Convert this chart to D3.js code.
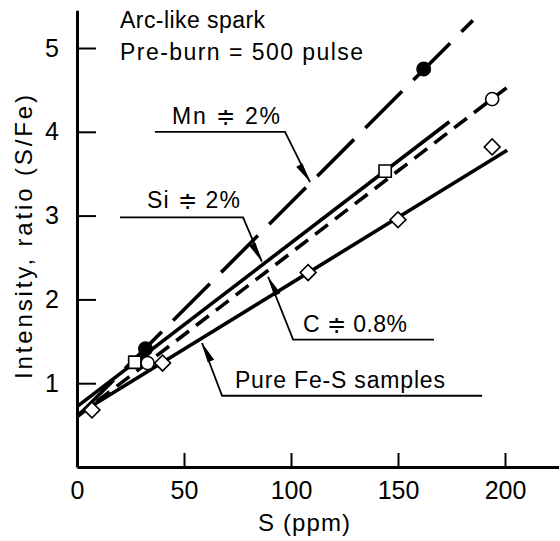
<!DOCTYPE html>
<html>
<head>
<meta charset="utf-8">
<script src="https://cdn.jsdelivr.net/npm/d3@7"></script>
<style>
	body { margin: 0; background: #fff; }
	svg { display: block; font-family: "Liberation Sans", Arial, sans-serif; }
</style>
</head>
<body>
<svg id="chart" width="560" height="541"></svg>
<script>
// Values: S (ppm) vs intensity ratio (S/Fe)
const mnPoints = [[32, 1.41], [162, 4.75]]
const mnFit = [[0, 0.6], [185, 5.33]]
const siPoints = [[27, 1.25], [144, 3.53]]
const siFit = [[0, 0.72], [174, 4.12]]
const cPoints = [[33, 1.24], [194, 4.39]]
const cFit = [[0, 0.6], [202, 4.55]]
const feSPoints = [[7, 0.68], [40, 1.24], [108, 2.32], [150, 2.95], [194, 3.82]]
const feSFit = [[0, 0.62], [201, 3.78]]

const xTicks = [0, 50, 100, 150, 200]
const yTicks = [1, 2, 3, 4, 5]

const series = [
	{ name: "Mn", points: mnPoints, fit: mnFit, marker: "dot", dash: "52,16" },
	{ name: "Si", points: siPoints, fit: siFit, marker: "square", dash: null },
	{ name: "C", points: cPoints, fit: cFit, marker: "circle", dash: "16,9" },
	{ name: "Fe-S", points: feSPoints, fit: feSFit, marker: "diamond", dash: null },
]

// Labels with leader lines, placed in data units
const notes = [
	{ text: "Mn \u2251 2%", at: [44.4, 4.09], len: 108, under: [36.4, 97.2, 4.0], tip: [108.9, 3.40] },
	{ text: "Si \u2251 2%", at: [32.7, 3.09], len: 93, under: [20.1, 77.6, 2.98], tip: [86.4, 2.45] },
	{ text: "C \u2251 0.8%", at: [105.6, 1.61], len: 104, under: [101, 166.8, 1.52], tip: [89.3, 2.27] },
	{ text: "Pure Fe-S samples", at: [73.8, 0.94], len: 210, under: [67.8, 189.3, 0.85], tip: [58.4, 1.48] },
]

const svg = d3.select("#chart")

const x = d3.scaleLinear()
	.domain([0, 225])
	.range([77, 558.5])
const y = d3.scaleLinear()
	.domain([0, 5.45])
	.range([467, 10.3])

// Axes: ticks point inwards
const xAxis = svg.append("g")
	.attr("transform", `translate(0, ${y(0)})`)
	.call(d3.axisBottom(x)
		.tickValues(xTicks)
		.tickFormat(d3.format("d"))
		.tickSizeInner(-14)
		.tickSizeOuter(0)
		.tickPadding(16))
const yAxis = svg.append("g")
	.attr("transform", `translate(${x(0)}, 0)`)
	.call(d3.axisLeft(y)
		.tickValues(yTicks)
		.tickFormat(d3.format("d"))
		.tickSizeInner(-19)
		.tickSizeOuter(0)
		.tickPadding(18))

svg.selectAll(".domain")
	.attr("stroke", "#000")
	.attr("stroke-width", 3)
svg.selectAll(".tick line")
	.attr("stroke", "#000")
	.attr("stroke-width", 2)
svg.selectAll(".tick text")
	.attr("fill", "#000")
	.style("font-size", "25px")
	.style("font-family", "Liberation Sans, Arial, sans-serif")
xAxis.selectAll(".tick text")
	.attr("dy", "0.62em")

svg.append("text")
	.attr("x", x(0) + 181)
	.attr("y", 531)
	.attr("text-anchor", "start")
	.attr("textLength", 92)
	.attr("lengthAdjust", "spacing")
	.style("font-size", "24px")
	.text("S (ppm)")

svg.append("text")
	.attr("transform", `translate(32, ${y(0) - 230}) rotate(-90)`)
	.attr("text-anchor", "middle")
	.attr("textLength", 284)
	.attr("lengthAdjust", "spacing")
	.style("font-size", "24px")
	.text("Intensity, ratio (S/Fe)")

svg.append("text")
	.attr("x", x(20.1))
	.attr("y", 28)
	.attr("textLength", 145)
	.attr("lengthAdjust", "spacing")
	.style("font-size", "23px")
	.text("Arc-like spark")
svg.append("text")
	.attr("x", x(20.1))
	.attr("y", 60)
	.attr("textLength", 243)
	.attr("lengthAdjust", "spacing")
	.style("font-size", "23px")
	.text("Pre-burn = 500 pulse")

// Fit lines
const line = d3.line()
	.x(d => x(d[0]))
	.y(d => y(d[1]))

svg.append("g")
	.selectAll("path")
	.data(series)
	.join("path")
	.attr("d", d => line(d.fit))
	.attr("fill", "none")
	.attr("stroke", "#000")
	.attr("stroke-width", 3.6)
	.attr("stroke-dasharray", d => d.dash)

// Markers
const shapes = {
	dot: d3.symbol(d3.symbolCircle, 140),
	circle: d3.symbol(d3.symbolCircle, 135),
	square: d3.symbol(d3.symbolSquare, 150),
	diamond: d3.symbol(d3.symbolSquare, 125),
}
const marks = svg.append("g")
series.forEach(s => {
	marks.selectAll(null)
		.data(s.points)
		.join("path")
		.attr("transform", d => `translate(${x(d[0])}, ${y(d[1])})` + (s.marker === "diamond" ? " rotate(45)" : ""))
		.attr("d", shapes[s.marker]())
		.attr("fill", s.marker === "dot" ? "#000" : "#fff")
		.attr("stroke", "#000")
		.attr("stroke-width", 1.6)
})

// Labels, underlines, leaders and arrowheads
const noteG = svg.append("g")
notes.forEach(n => {
	noteG.append("text")
		.attr("x", x(n.at[0]))
		.attr("y", y(n.at[1]))
		.attr("textLength", n.len)
		.attr("lengthAdjust", "spacing")
		.style("font-size", "23px")
		.text(n.text)

	let [u0, u1, uy] = n.under
	let elbow = Math.abs(u0 - n.tip[0]) < Math.abs(u1 - n.tip[0]) ? u0 : u1
	let ex = x(elbow), ey = y(uy), tx = x(n.tip[0]), ty = y(n.tip[1])
	noteG.append("path")
		.attr("d", `M${x(u0 === elbow ? u1 : u0)},${ey}L${ex},${ey}L${tx},${ty}`)
		.attr("fill", "none")
		.attr("stroke", "#000")
		.attr("stroke-width", 1.8)

	// Narrow filled arrowhead, tip touching the line
	let len = Math.hypot(tx - ex, ty - ey)
	let ux = (tx - ex) / len, uv = (ty - ey) / len
	let bx = tx - ux * 20, by = ty - uv * 20
	noteG.append("path")
		.attr("d", `M${tx},${ty}L${bx - uv * 5.5},${by + ux * 5.5}L${bx + uv * 1.5},${by - ux * 1.5}Z`)
		.attr("fill", "#000")
})
</script>
</body>
</html>
